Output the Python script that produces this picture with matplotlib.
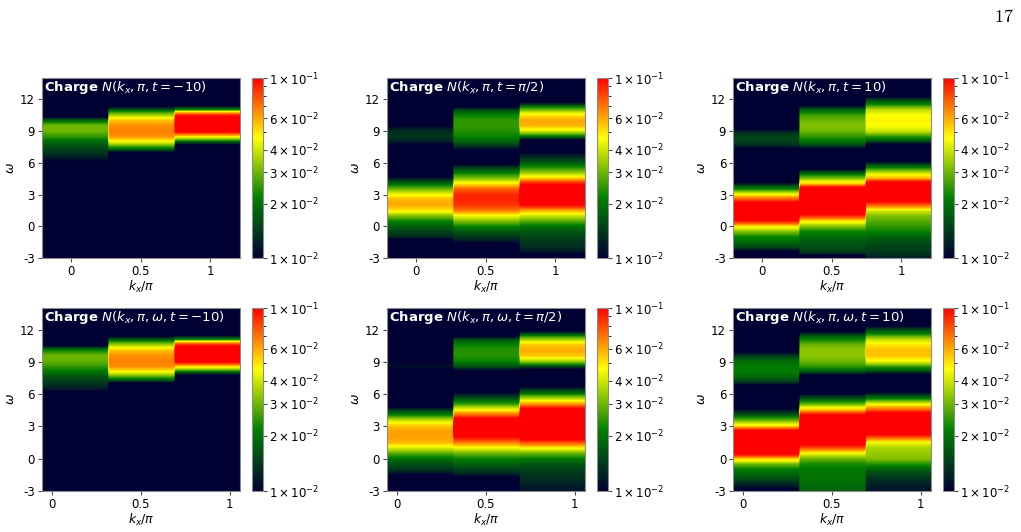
import numpy as np
import matplotlib
matplotlib.use("Agg")
import matplotlib.pyplot as plt
from matplotlib.colors import LinearSegmentedColormap, LogNorm
from matplotlib.ticker import FixedLocator, NullFormatter

# frequency grid of the spectra (omega from -3 to 14, step 0.5)
omega = np.linspace(-3, 14, 35)

# k_x/pi bins (edges differ between the two rows in the original)
kx_edges_top = [-0.21, 0.265, 0.74, 1.215]
kx_edges_bottom = [-0.056, 0.315, 0.687, 1.058]
kx_ticks = [0, 0.5, 1]
kx_ticklabels = ['0', '0.5', '1']
w_ticks = [-3, 0, 3, 6, 9, 12]
w_ticklabels = ['-3', '0', '3', '6', '9', '12']
cbar_ticks = [0.01, 0.02, 0.03, 0.04, 0.06, 0.1]
cbar_minor = [0.05, 0.07, 0.08, 0.09]
cbar_labels = [r'$1\times10^{-2}$', r'$2\times10^{-2}$', r'$3\times10^{-2}$',
               r'$4\times10^{-2}$', r'$6\times10^{-2}$', r'$1\times10^{-1}$']

# spectral weight in units of 1e-3, one list per k_x = 0, pi/2, pi
N_top_tm10 = [
    [5, 5, 5, 5, 5,  5, 5, 5, 5, 5,  5, 5, 5, 5, 5,  5, 5, 5, 9, 12,  14, 16, 19, 25, 30,  30, 18, 5, 5, 5,  5, 5, 5, 5, 5],
    [5, 5, 5, 5, 5,  5, 5, 5, 5, 5,  5, 5, 5, 5, 5,  5, 5, 5, 5, 5,  10, 25, 45, 65, 68,  65, 55, 35, 17, 5,  5, 5, 5, 5, 5],
    [5, 5, 5, 5, 5,  5, 5, 5, 5, 5,  5, 5, 5, 5, 5,  5, 5, 5, 5, 5,  5, 5, 18, 50, 110,  130, 130, 90, 22, 5,  5, 5, 5, 5, 5],
]
N_top_tpi2 = [
    [5, 5, 5, 6, 13,  15, 18, 22, 32, 50,  60, 58, 45, 30, 19,  12, 5, 5, 5, 5,  5, 8, 12, 14, 13,  10, 5, 5, 5, 5,  5, 5, 5, 5, 5],
    [5, 5, 5, 11, 14,  17, 22, 32, 45, 70,  85, 90, 88, 75, 50,  32, 22, 15, 8, 5,  8, 13, 18, 22, 24,  25, 25, 22, 15, 5,  5, 5, 5, 5, 5],
    [5, 11, 13, 14, 15,  17, 20, 28, 40, 60,  100, 130, 130, 130, 95,  55, 35, 24, 17, 13,  10, 5, 5, 20, 42,  58, 60, 50, 30, 14,  5, 5, 5, 5, 5],
]
N_top_t10 = [
    [5, 8, 15, 19, 22,  32, 50, 95, 130, 130,  120, 80, 45, 22, 12,  5, 5, 5, 5, 5,  5, 12, 15, 15, 12,  5, 5, 5, 5, 5,  5, 5, 5, 5, 5],
    [5, 14, 16, 17, 19,  22, 32, 50, 90, 130,  130, 130, 130, 120, 55,  32, 18, 8, 5, 5,  5, 13, 20, 25, 30,  32, 30, 26, 18, 8,  5, 5, 5, 5, 5],
    [12, 14, 15, 16, 18,  22, 25, 28, 32, 42,  75, 110, 130, 130, 120,  60, 40, 22, 12, 5,  5, 5, 15, 25, 40,  46, 48, 46, 38, 22,  14, 5, 5, 5, 5],
]
N_bot_tm10 = [
    [5, 5, 5, 5, 5,  5, 5, 5, 5, 5,  5, 5, 5, 5, 5,  5, 5, 5, 9, 12,  14, 16, 20, 25, 29,  30, 22, 7, 5, 5,  5, 5, 5, 5, 5],
    [5, 5, 5, 5, 5,  5, 5, 5, 5, 5,  5, 5, 5, 5, 5,  5, 5, 5, 5, 5,  10, 25, 45, 65, 68,  65, 55, 35, 17, 5,  5, 5, 5, 5, 5],
    [5, 5, 5, 5, 5,  5, 5, 5, 5, 5,  5, 5, 5, 5, 5,  5, 5, 5, 5, 5,  5, 5, 18, 50, 110,  130, 130, 90, 22, 5,  5, 5, 5, 5, 5],
]
N_bot_tpi2 = [
    [5, 5, 5, 10, 14,  16, 20, 28, 42, 58,  62, 62, 55, 40, 22,  14, 5, 5, 5, 5,  5, 5, 8, 11, 10,  5, 5, 5, 5, 5,  5, 5, 5, 5, 5],
    [5, 5, 5, 12, 15,  18, 22, 30, 45, 70,  100, 130, 130, 120, 75,  45, 26, 17, 11, 5,  5, 5, 8, 16, 22,  24, 24, 22, 16, 5,  5, 5, 5, 5, 5],
    [11, 12, 13, 14, 15,  17, 21, 30, 48, 80,  120, 130, 130, 130, 130,  110, 65, 38, 20, 12,  5, 5, 5, 15, 35,  55, 60, 55, 35, 16,  5, 5, 5, 5, 5],
]
N_bot_t10 = [
    [8, 12, 15, 18, 21,  30, 55, 110, 130, 130,  130, 110, 50, 30, 17,  11, 5, 5, 5, 5,  13, 18, 21, 21, 19,  14, 8, 5, 5, 5,  5, 5, 5, 5, 5],
    [18, 19, 20, 20, 21,  23, 30, 45, 80, 120,  130, 130, 130, 130, 100,  55, 30, 17, 10, 5,  5, 5, 16, 25, 30,  33, 33, 30, 22, 14,  5, 5, 5, 5, 5],
    [11, 12, 13, 15, 18,  24, 32, 34, 36, 45,  80, 130, 130, 130, 120,  75, 45, 22, 12, 5,  5, 5, 14, 25, 45,  55, 56, 50, 38, 22,  14, 5, 5, 5, 5],
]

titles_top = [r'$\mathbf{Charge}$ $N(k_x, \pi, t = -10)$',
              r'$\mathbf{Charge}$ $N(k_x, \pi, t = \pi/2)$',
              r'$\mathbf{Charge}$ $N(k_x, \pi, t = 10)$']
titles_bot = [r'$\mathbf{Charge}$ $N(k_x, \pi, \omega, t = -10)$',
              r'$\mathbf{Charge}$ $N(k_x, \pi, \omega, t = \pi/2)$',
              r'$\mathbf{Charge}$ $N(k_x, \pi, \omega, t = 10)$']

cmap = LinearSegmentedColormap.from_list('charge', ['#000033', 'green', 'yellow', 'red'])
norm = LogNorm(vmin=0.01, vmax=0.1)

fig = plt.figure(figsize=(10.21, 5.32), dpi=100)

rows = [
    (0.515, 0.338, kx_edges_top, [N_top_tm10, N_top_tpi2, N_top_t10], titles_top),
    (0.077, 0.344, kx_edges_bottom, [N_bot_tm10, N_bot_tpi2, N_bot_t10], titles_bot),
]
col_left = [0.0411, 0.379, 0.718]
cbar_left = [0.2468, 0.5847, 0.9236]
half = 0.5 * (omega[1] - omega[0])

for bottom, height, edges, panels, titles in rows:
    for j in range(3):
        ax = fig.add_axes([col_left[j], bottom, 0.194, height])
        # rows = omega (top = highest), columns = k_x bins repeated so that
        # the smoothing only acts along omega
        grid = np.array(panels[j]).T[::-1] * 1e-3
        grid = np.repeat(grid, 60, axis=1)
        im = ax.imshow(grid, cmap=cmap, norm=norm, aspect='auto',
                       interpolation='bilinear', interpolation_stage='data',
                       extent=[edges[0], edges[-1], omega[0] - half, omega[-1] + half])
        ax.set_xlim(edges[0], edges[-1])
        ax.set_ylim(-3, 14)
        ax.set_xticks(kx_ticks, kx_ticklabels)
        ax.set_yticks(w_ticks, w_ticklabels)
        ax.tick_params(labelsize=8.5, length=3, width=0.8, color='0.3', pad=2)
        for s in ax.spines.values():
            s.set_color('0.55')
            s.set_linewidth(0.8)
        ax.set_xlabel(r'$k_x/\pi$', fontsize=9, labelpad=1)
        ax.set_ylabel(r'$\omega$', fontsize=9, labelpad=2)
        ax.text(0.01, 0.995, titles[j], transform=ax.transAxes, ha='left',
                va='top', color='white', fontsize=9.5)

        cax = fig.add_axes([cbar_left[j], bottom, 0.011, height])
        cb = fig.colorbar(im, cax=cax)
        cb.set_ticks(cbar_ticks, labels=cbar_labels)
        cax.yaxis.set_minor_locator(FixedLocator(cbar_minor))
        cax.yaxis.set_minor_formatter(NullFormatter())
        cax.tick_params(labelsize=8.5, length=3, width=0.8, color='0.3', pad=1)
        cax.tick_params(which='minor', length=1.8, width=0.6)
        cb.outline.set_edgecolor('0.55')
        cb.outline.set_linewidth(0.8)

fig.text(0.993, 0.968, r'$17$', ha='right', va='center', fontsize=13,
         math_fontfamily='cm')

fig.savefig('out.png', dpi=100)
